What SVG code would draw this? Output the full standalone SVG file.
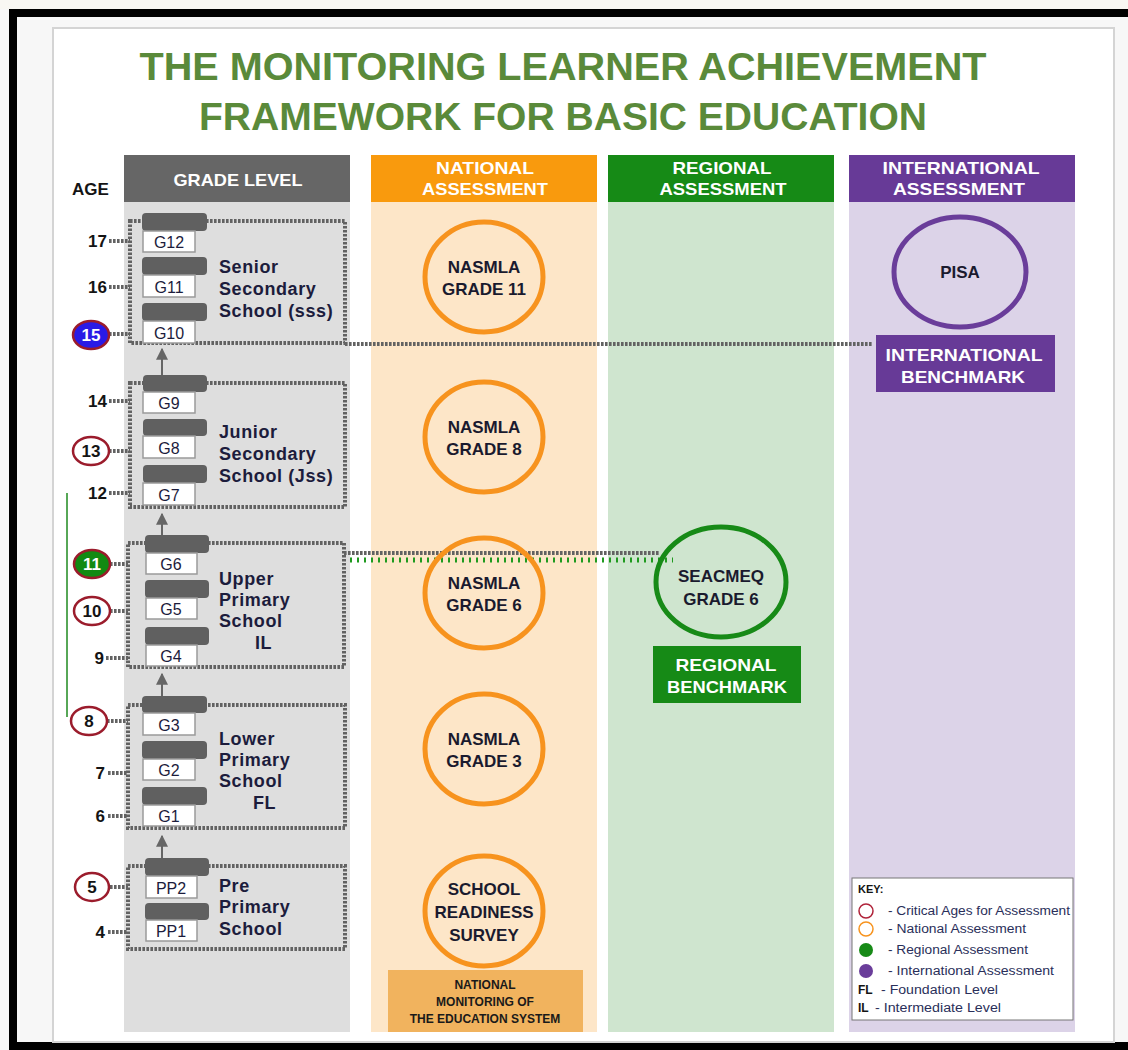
<svg xmlns="http://www.w3.org/2000/svg" width="1128" height="1050" viewBox="0 0 1128 1050">
  <style>
    .b { font-family: "Liberation Sans", Arial, sans-serif; font-weight: bold; }
    .r { font-family: "Liberation Sans", Arial, sans-serif; }
    .title { fill: #5a8a3a; font-size: 39px; }
    .hdr { fill: #ffffff; font-size: 17px; }
    .school { fill: #1c1c3c; font-size: 18px; letter-spacing: 0.6px; }
    .grade { fill: #1c1c3c; font-size: 16px; }
    .age { fill: #141414; font-size: 17px; }
    .ctext { fill: #1a1a2e; font-size: 17px; }
    .tab { fill: #606060; }
    .gbox { fill: #ffffff; stroke: #9a9a9a; stroke-width: 1.5; }
    .dot { fill: none; stroke: #626262; stroke-width: 4; stroke-dasharray: 2.6 1.4; }
    .crit { fill: #ffffff; stroke: #9b1c2c; stroke-width: 2.5; }
    .nat { fill: none; stroke: #f7931e; stroke-width: 5; }
    .arrow { stroke: #666666; stroke-width: 2; }
    .key { fill: #2a2f5a; font-size: 12px; }
  </style>
  <defs>
    <marker id="ah" viewBox="0 0 10 10" refX="9" refY="5" markerWidth="6" markerHeight="6" orient="auto">
      <path d="M0,0 L10,5 L0,10 z" fill="#666666"/>
    </marker>
  </defs>

  <!-- frame and page -->
  <rect x="0" y="0" width="1128" height="1050" fill="#f7f7f7"/>
  <rect x="0" y="0" width="1128" height="9" fill="#f8f7f3"/>
  <rect x="9" y="9" width="1119" height="8" fill="#000000"/>
  <rect x="9" y="9" width="8" height="1041" fill="#000000"/>
  <rect x="9" y="1042" width="1119" height="8" fill="#000000"/>
  <rect x="53" y="28" width="1061" height="1014" fill="#ffffff" stroke="#d4d4d4" stroke-width="2"/>

  <!-- title -->
  <g id="title">
    <text class="b title" x="563" y="80" text-anchor="middle" textLength="847" lengthAdjust="spacingAndGlyphs">THE MONITORING LEARNER ACHIEVEMENT</text>
    <text class="b title" x="563" y="130" text-anchor="middle" textLength="728" lengthAdjust="spacingAndGlyphs">FRAMEWORK FOR BASIC EDUCATION</text>
  </g>

  <!-- columns -->
  <g id="col-grade">
    <rect x="124" y="202" width="226" height="830" fill="#dedede"/>
    <rect x="124" y="155" width="226" height="47" fill="#666666"/>
    <text class="b hdr" x="238" y="186" text-anchor="middle" textLength="129" lengthAdjust="spacingAndGlyphs">GRADE LEVEL</text>
  </g>
  <g id="col-national">
    <rect x="371" y="202" width="226" height="830" fill="#fde6c8"/>
    <rect x="371" y="155" width="226" height="47" fill="#f99a0d"/>
    <text class="b hdr" x="485" y="174" text-anchor="middle" textLength="98" lengthAdjust="spacingAndGlyphs">NATIONAL</text>
    <text class="b hdr" x="485" y="195" text-anchor="middle" textLength="126" lengthAdjust="spacingAndGlyphs">ASSESSMENT</text>
  </g>
  <g id="col-regional">
    <rect x="608" y="202" width="226" height="830" fill="#cfe5cf"/>
    <rect x="608" y="155" width="226" height="47" fill="#168a16"/>
    <text class="b hdr" x="722" y="174" text-anchor="middle" textLength="99" lengthAdjust="spacingAndGlyphs">REGIONAL</text>
    <text class="b hdr" x="723" y="195" text-anchor="middle" textLength="127" lengthAdjust="spacingAndGlyphs">ASSESSMENT</text>
  </g>
  <g id="col-international">
    <rect x="849" y="202" width="226" height="830" fill="#dcd3e8"/>
    <rect x="849" y="155" width="226" height="47" fill="#673a97"/>
    <text class="b hdr" x="961" y="174" text-anchor="middle" textLength="157" lengthAdjust="spacingAndGlyphs">INTERNATIONAL</text>
    <text class="b hdr" x="959" y="195" text-anchor="middle" textLength="132" lengthAdjust="spacingAndGlyphs">ASSESSMENT</text>
  </g>

  <text id="age-label" class="b" x="72" y="195" font-size="17" fill="#141414">AGE</text>

  <!-- connectors -->
  <g id="connectors">
    <!-- age ticks -->
    <path class="dot" d="M109,241 H130 M109,287 H130 M109,334 H130 M109,401 H130 M109,451 H130 M109,493 H130 M110,564 H128 M110,611 H128 M106,658 H128 M107,721 H128 M108,773 H128 M108,816 H128 M110,887 H128 M108,932 H128"/>
    <!-- progression arrows -->
    <line class="arrow" x1="162" y1="375" x2="162" y2="349" marker-end="url(#ah)"/>
    <line class="arrow" x1="162" y1="535" x2="162" y2="514" marker-end="url(#ah)"/>
    <line class="arrow" x1="162" y1="696" x2="162" y2="674" marker-end="url(#ah)"/>
    <line class="arrow" x1="162" y1="858" x2="162" y2="836" marker-end="url(#ah)"/>
    <!-- links to benchmarks -->
    <path class="dot" d="M345,344 H872"/>
    <path class="dot" d="M344,553 H660"/>
    <path d="M350,560 H673" fill="none" stroke="#1f9a1f" stroke-width="5" stroke-dasharray="2 5"/>
    <!-- regional span marker -->
    <line x1="67" y1="493" x2="67" y2="717" stroke="#1f8a1f" stroke-width="1.5"/>
  </g>

  <!-- grade level groups -->
  <g id="sss">
    <rect class="dot" x="130" y="221" width="215" height="122"/>
    <rect class="tab" x="142" y="213" width="65" height="18" rx="4"/>
    <rect class="gbox" x="143" y="231" width="52" height="21"/>
    <text class="r grade" x="169" y="248" text-anchor="middle">G12</text>
    <rect class="tab" x="142" y="257" width="65" height="18" rx="4"/>
    <rect class="gbox" x="143" y="275" width="52" height="22"/>
    <text class="r grade" x="169" y="293" text-anchor="middle">G11</text>
    <rect class="tab" x="142" y="303" width="65" height="18" rx="4"/>
    <rect class="gbox" x="143" y="321" width="52" height="22"/>
    <text class="r grade" x="169" y="339" text-anchor="middle">G10</text>
    <text class="b school" x="219" y="273">Senior</text>
    <text class="b school" x="219" y="295">Secondary</text>
    <text class="b school" x="219" y="317">School (sss)</text>
  </g>
  <g id="jss">
    <rect class="dot" x="130" y="383" width="215" height="124"/>
    <rect class="tab" x="143" y="375" width="64" height="17" rx="4"/>
    <rect class="gbox" x="143" y="392" width="52" height="21"/>
    <text class="r grade" x="169" y="409" text-anchor="middle">G9</text>
    <rect class="tab" x="143" y="419" width="64" height="17" rx="4"/>
    <rect class="gbox" x="143" y="436" width="52" height="22"/>
    <text class="r grade" x="169" y="454" text-anchor="middle">G8</text>
    <rect class="tab" x="143" y="465" width="64" height="18" rx="4"/>
    <rect class="gbox" x="143" y="483" width="52" height="22"/>
    <text class="r grade" x="169" y="501" text-anchor="middle">G7</text>
    <text class="b school" x="219" y="438">Junior</text>
    <text class="b school" x="219" y="460">Secondary</text>
    <text class="b school" x="219" y="482">School (Jss)</text>
  </g>
  <g id="ups">
    <rect class="dot" x="128" y="543" width="216" height="124"/>
    <rect class="tab" x="145" y="535" width="64" height="18" rx="4"/>
    <rect class="gbox" x="146" y="553" width="51" height="21"/>
    <text class="r grade" x="171" y="570" text-anchor="middle">G6</text>
    <rect class="tab" x="145" y="580" width="64" height="18" rx="4"/>
    <rect class="gbox" x="146" y="598" width="51" height="21"/>
    <text class="r grade" x="171" y="615" text-anchor="middle">G5</text>
    <rect class="tab" x="145" y="627" width="64" height="18" rx="4"/>
    <rect class="gbox" x="146" y="645" width="51" height="21"/>
    <text class="r grade" x="171" y="662" text-anchor="middle">G4</text>
    <text class="b school" x="219" y="585">Upper</text>
    <text class="b school" x="219" y="606">Primary</text>
    <text class="b school" x="219" y="627">School</text>
    <text class="b school" x="255" y="649">IL</text>
  </g>
  <g id="lps">
    <rect class="dot" x="128" y="705" width="217" height="123"/>
    <rect class="tab" x="142" y="696" width="65" height="17" rx="4"/>
    <rect class="gbox" x="143" y="713" width="52" height="22"/>
    <text class="r grade" x="169" y="731" text-anchor="middle">G3</text>
    <rect class="tab" x="142" y="741" width="65" height="18" rx="4"/>
    <rect class="gbox" x="143" y="759" width="52" height="21"/>
    <text class="r grade" x="169" y="776" text-anchor="middle">G2</text>
    <rect class="tab" x="142" y="787" width="65" height="18" rx="4"/>
    <rect class="gbox" x="143" y="805" width="52" height="21"/>
    <text class="r grade" x="169" y="822" text-anchor="middle">G1</text>
    <text class="b school" x="219" y="745">Lower</text>
    <text class="b school" x="219" y="766">Primary</text>
    <text class="b school" x="219" y="787">School</text>
    <text class="b school" x="253" y="809">FL</text>
  </g>
  <g id="pps">
    <rect class="dot" x="128" y="866" width="217" height="83"/>
    <rect class="tab" x="145" y="858" width="64" height="18" rx="4"/>
    <rect class="gbox" x="146" y="876" width="51" height="22"/>
    <text class="r grade" x="171" y="894" text-anchor="middle">PP2</text>
    <rect class="tab" x="145" y="903" width="64" height="17" rx="4"/>
    <rect class="gbox" x="146" y="920" width="51" height="21"/>
    <text class="r grade" x="171" y="937" text-anchor="middle">PP1</text>
    <text class="b school" x="219" y="892">Pre</text>
    <text class="b school" x="219" y="913">Primary</text>
    <text class="b school" x="219" y="935">School</text>
  </g>

  <!-- ages -->
  <g id="ages">
    <text class="b age" x="107" y="247" text-anchor="end">17</text>
    <text class="b age" x="107" y="293" text-anchor="end">16</text>
    <ellipse cx="91" cy="335" rx="18" ry="14" fill="#2a1ae6" stroke="#9b1c2c" stroke-width="2.5"/>
    <text class="b age" x="91" y="341" text-anchor="middle" style="fill:#ffffff">15</text>
    <text class="b age" x="107" y="407" text-anchor="end">14</text>
    <ellipse class="crit" cx="91" cy="451" rx="18" ry="14"/>
    <text class="b age" x="91" y="457" text-anchor="middle">13</text>
    <text class="b age" x="107" y="499" text-anchor="end">12</text>
    <ellipse cx="92" cy="564" rx="18" ry="14" fill="#128a12" stroke="#9b1c2c" stroke-width="2.5"/>
    <text class="b age" x="92" y="570" text-anchor="middle" style="fill:#ffffff">11</text>
    <ellipse class="crit" cx="92" cy="611" rx="18" ry="14"/>
    <text class="b age" x="92" y="617" text-anchor="middle">10</text>
    <text class="b age" x="104" y="664" text-anchor="end">9</text>
    <ellipse class="crit" cx="89" cy="721" rx="18" ry="14"/>
    <text class="b age" x="89" y="727" text-anchor="middle">8</text>
    <text class="b age" x="105" y="779" text-anchor="end">7</text>
    <text class="b age" x="105" y="822" text-anchor="end">6</text>
    <ellipse class="crit" cx="92" cy="887" rx="17" ry="14"/>
    <text class="b age" x="92" y="893" text-anchor="middle">5</text>
    <text class="b age" x="105" y="938" text-anchor="end">4</text>
  </g>

  <!-- national assessments -->
  <g id="nasmla-11">
    <ellipse class="nat" cx="484" cy="277" rx="59" ry="55"/>
    <text class="b ctext" x="484" y="273" text-anchor="middle">NASMLA</text>
    <text class="b ctext" x="484" y="295" text-anchor="middle">GRADE 11</text>
  </g>
  <g id="nasmla-8">
    <ellipse class="nat" cx="484" cy="437" rx="59" ry="55"/>
    <text class="b ctext" x="484" y="433" text-anchor="middle">NASMLA</text>
    <text class="b ctext" x="484" y="455" text-anchor="middle">GRADE 8</text>
  </g>
  <g id="nasmla-6">
    <ellipse class="nat" cx="484" cy="593" rx="59" ry="55"/>
    <text class="b ctext" x="484" y="589" text-anchor="middle">NASMLA</text>
    <text class="b ctext" x="484" y="611" text-anchor="middle">GRADE 6</text>
  </g>
  <g id="nasmla-3">
    <ellipse class="nat" cx="484" cy="749" rx="59" ry="55"/>
    <text class="b ctext" x="484" y="745" text-anchor="middle">NASMLA</text>
    <text class="b ctext" x="484" y="767" text-anchor="middle">GRADE 3</text>
  </g>
  <g id="readiness">
    <ellipse class="nat" cx="484" cy="911" rx="59" ry="55"/>
    <text class="b ctext" x="484" y="895" text-anchor="middle">SCHOOL</text>
    <text class="b ctext" x="484" y="918" text-anchor="middle">READINESS</text>
    <text class="b ctext" x="484" y="941" text-anchor="middle">SURVEY</text>
  </g>
  <g id="national-monitoring">
    <rect x="388" y="970" width="195" height="62" fill="#f1b35e"/>
    <text class="b" x="485" y="989" text-anchor="middle" font-size="12" fill="#1a1a1a">NATIONAL</text>
    <text class="b" x="485" y="1006" text-anchor="middle" font-size="12" fill="#1a1a1a">MONITORING OF</text>
    <text class="b" x="485" y="1023" text-anchor="middle" font-size="12" fill="#1a1a1a">THE EDUCATION SYSTEM</text>
  </g>

  <!-- regional assessment -->
  <g id="seacmeq">
    <ellipse cx="721" cy="582" rx="65" ry="55" fill="none" stroke="#178a17" stroke-width="5"/>
    <text class="b ctext" x="721" y="582" text-anchor="middle">SEACMEQ</text>
    <text class="b ctext" x="721" y="605" text-anchor="middle">GRADE 6</text>
  </g>
  <g id="regional-benchmark">
    <rect x="653" y="646" width="148" height="57" fill="#168a16"/>
    <text class="b hdr" x="726" y="671" text-anchor="middle" textLength="101" lengthAdjust="spacingAndGlyphs">REGIONAL</text>
    <text class="b hdr" x="727" y="693" text-anchor="middle" textLength="120" lengthAdjust="spacingAndGlyphs">BENCHMARK</text>
  </g>

  <!-- international assessment -->
  <g id="pisa">
    <ellipse cx="960" cy="272" rx="66" ry="55" fill="none" stroke="#6a3d9a" stroke-width="5"/>
    <text class="b ctext" x="960" y="278" text-anchor="middle">PISA</text>
  </g>
  <g id="international-benchmark">
    <rect x="876" y="335" width="179" height="57" fill="#673a97"/>
    <text class="b hdr" x="964" y="361" text-anchor="middle" textLength="157" lengthAdjust="spacingAndGlyphs">INTERNATIONAL</text>
    <text class="b hdr" x="963" y="383" text-anchor="middle" textLength="124" lengthAdjust="spacingAndGlyphs">BENCHMARK</text>
  </g>

  <!-- legend -->
  <g id="key">
    <rect x="852" y="878" width="221" height="142" fill="#ffffff" stroke="#777777" stroke-width="1"/>
    <text class="b" x="858" y="893" font-size="11" fill="#141414">KEY:</text>
    <circle cx="866" cy="911" r="7" fill="none" stroke="#b0233a" stroke-width="1.5"/>
    <text class="r key" x="888" y="915" textLength="182" lengthAdjust="spacingAndGlyphs">- Critical Ages for Assessment</text>
    <circle cx="866" cy="929" r="7" fill="none" stroke="#f7931e" stroke-width="1.5"/>
    <text class="r key" x="888" y="933" textLength="138" lengthAdjust="spacingAndGlyphs">- National Assessment</text>
    <circle cx="866" cy="950" r="7" fill="#178a17"/>
    <text class="r key" x="888" y="954" textLength="140" lengthAdjust="spacingAndGlyphs">- Regional Assessment</text>
    <circle cx="866" cy="971" r="7" fill="#6a3d9a"/>
    <text class="r key" x="888" y="975" textLength="166" lengthAdjust="spacingAndGlyphs">- International Assessment</text>
    <text class="b" x="858" y="994" font-size="12" fill="#141414">FL</text>
    <text class="r key" x="881" y="994" textLength="117" lengthAdjust="spacingAndGlyphs">- Foundation Level</text>
    <text class="b" x="858" y="1012" font-size="12" fill="#141414">IL</text>
    <text class="r key" x="875" y="1012" textLength="126" lengthAdjust="spacingAndGlyphs">- Intermediate Level</text>
  </g>
</svg>
